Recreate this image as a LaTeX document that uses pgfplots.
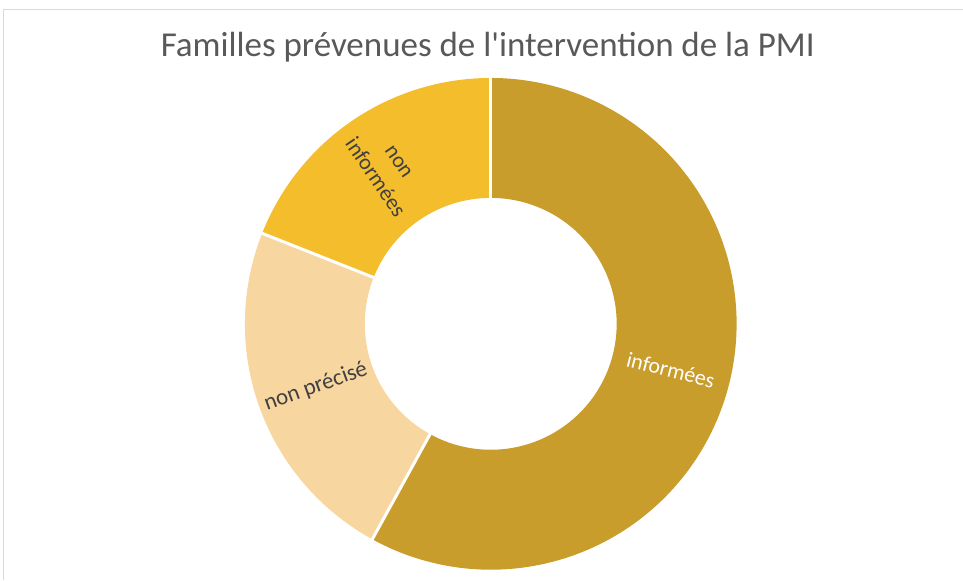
\documentclass[border=0pt]{standalone}
\usepackage{pgfplots}
\usepackage{pgfplotstable}
\pgfplotsset{compat=1.18}
\usepackage{fontspec}
\setmainfont{Carlito}
\definecolor{cInf}{HTML}{C99D2C}
\definecolor{cPre}{HTML}{F8D6A0}
\definecolor{cNon}{HTML}{F4BD2C}
\definecolor{cTitle}{HTML}{595959}
\definecolor{cLab}{HTML}{404040}
\pgfplotstableread{
label value
informees 58
nonprecise 23
noninformees 19
}\donut
\begin{document}
\begin{tikzpicture}
\pgfplotstablegetelem{0}{value}\of\donut \let\vA\pgfplotsretval
\pgfplotstablegetelem{1}{value}\of\donut \let\vB\pgfplotsretval
\pgfplotstablegetelem{2}{value}\of\donut \let\vC\pgfplotsretval
\pgfmathsetmacro{\aA}{90}
\pgfmathsetmacro{\aB}{90-3.6*\vA}
\pgfmathsetmacro{\aC}{\aB-3.6*\vB}
\pgfmathsetmacro{\aD}{\aC-3.6*\vC}
\pgfmathsetmacro{\mA}{(\aA+\aB)/2}
\pgfmathsetmacro{\mB}{(\aB+\aC)/2}
\pgfmathsetmacro{\mC}{(\aC+\aD)/2}
\def\cx{491}\def\cy{256}\def\rm{186}
\pgfmathsetmacro{\xA}{\cx+\rm*cos(\mA)}\pgfmathsetmacro{\yA}{\cy+\rm*sin(\mA)}
\pgfmathsetmacro{\xB}{\cx+\rm*cos(\mB)}\pgfmathsetmacro{\yB}{\cy+\rm*sin(\mB)}
\pgfmathsetmacro{\xC}{\cx+\rm*cos(\mC)}\pgfmathsetmacro{\yC}{\cy+\rm*sin(\mC)}
\pgfmathsetmacro{\rotB}{\mB+180}
\pgfmathsetmacro{\rotC}{\mC+180}
\begin{axis}[x=1pt, y=1pt, xmin=0, xmax=963, ymin=0, ymax=580,
  hide axis, clip=false, scale only axis]
\path (axis cs:0,0) rectangle (axis cs:963,580);
\draw[black!15, line width=1pt] (axis cs:4,0) -- (axis cs:4,570) -- (axis cs:963,570);
\addplot[draw=cInf, line width=120pt, line cap=butt, domain=\aB:\aA, samples=150, variable=\t]
  ({\cx+\rm*cos(\t)},{\cy+\rm*sin(\t)});
\addplot[draw=cPre, line width=120pt, line cap=butt, domain=\aC:\aB, samples=80, variable=\t]
  ({\cx+\rm*cos(\t)},{\cy+\rm*sin(\t)});
\addplot[draw=cNon, line width=120pt, line cap=butt, domain=\aD:\aC, samples=80, variable=\t]
  ({\cx+\rm*cos(\t)},{\cy+\rm*sin(\t)});
\addplot[draw=white, line width=3pt, domain=120:252, samples=2, variable=\t] ({\cx+\t*cos(\aA)},{\cy+\t*sin(\aA)});
\addplot[draw=white, line width=3pt, domain=120:252, samples=2, variable=\t] ({\cx+\t*cos(\aB)},{\cy+\t*sin(\aB)});
\addplot[draw=white, line width=3pt, domain=120:252, samples=2, variable=\t] ({\cx+\t*cos(\aC)},{\cy+\t*sin(\aC)});
\node[text=white, font=\fontsize{22}{24}\selectfont, rotate=\mA] at (axis cs:\xA,\yA) {informées};
\node[text=cLab, font=\fontsize{23}{24}\selectfont, rotate=\rotB] at (axis cs:\xB,\yB) {non précisé};
\node[text=cLab, font=\fontsize{22}{29}\selectfont, rotate=\rotC, align=center] at (axis cs:\xC,\yC) {non\\informées};
\node[text=cTitle, font=\fontsize{35}{38}\selectfont, anchor=base] at (axis cs:488,523) {Familles prévenues de l\textquotesingle intervention de la PMI};
\end{axis}
\end{tikzpicture}
\end{document}
